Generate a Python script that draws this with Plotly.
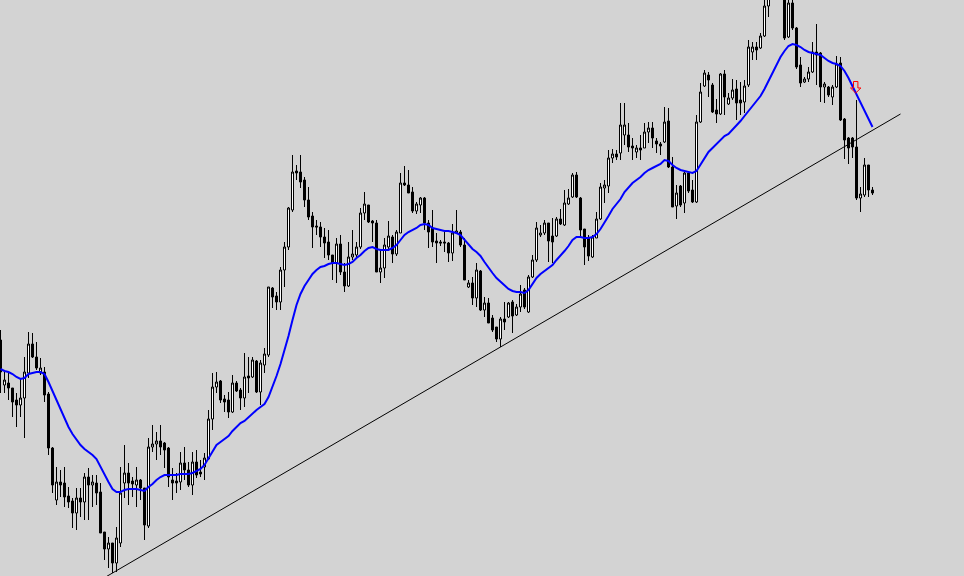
import plotly.graph_objects as go

# ---- data (price in points) ----
open_ = [
    660,615,617,612,600,595,602,627,656,643,
    627,628,606,552,500,518,517,504,499,487,
    502,498,523,515,517,508,468,451,457,437,
    457,517,527,519,515,520,512,474,553,556,
    559,557,552,520,519,518,537,530,515,538,
    528,533,541,581,613,619,601,600,588,617,
    610,602,624,623,639,608,635,645,712,704,
    698,730,753,790,829,828,820,800,784,774,
    773,763,758,745,737,756,728,714,743,745,
    753,787,795,779,777,728,732,753,763,746,
    767,817,815,808,789,795,802,777,772,759,
    758,758,757,747,767,768,755,713,717,702,
    729,690,697,682,673,661,681,683,698,685,
    693,710,688,723,740,765,767,777,764,764,
    781,775,796,803,825,802,771,762,743,762,
    781,812,814,842,846,847,865,865,854,848,
    852,852,868,872,859,856,858,879,833,794,
    814,797,827,810,798,878,914,925,915,890,
    886,926,896,902,911,900,898,915,948,953,
    952,964,994,1002,1030,1020,1005,963,997,972,
    935,918,921,928,948,947,913,913,903,913,
    937,881,862,862,853,802,805,835,810,
]
high = [
    670,630,627,612,607,622,643,668,667,658,
    642,633,608,553,533,530,533,513,502,512,
    512,527,532,525,525,517,468,463,457,473,
    533,555,537,523,533,521,512,562,575,568,
    575,558,553,532,527,548,553,538,548,550,
    540,547,590,627,628,620,605,608,625,619,
    612,647,643,643,640,640,652,713,713,708,
    733,758,793,845,835,845,823,813,788,780,
    778,772,770,745,762,765,737,758,770,758,
    792,808,795,780,780,750,762,779,765,770,
    827,834,830,813,798,803,803,780,790,767,
    760,768,758,776,790,770,762,720,723,737,
    730,703,702,685,673,683,698,698,700,696,
    715,712,725,745,778,775,780,777,782,783,
    791,810,811,827,828,803,771,765,765,788,
    817,820,850,851,850,897,897,877,862,855,
    865,877,878,878,862,858,893,892,843,815,
    815,830,828,820,885,917,930,928,917,901,
    927,930,907,921,920,918,920,960,958,958,
    967,1005,1008,1040,1045,1040,1015,1005,1003,973,
    943,923,933,958,976,948,918,914,915,944,
    943,882,863,863,900,813,842,835,813,
]
low = [
    607,607,600,583,573,583,562,622,642,630,
    625,598,545,507,495,503,493,492,472,470,
    483,480,480,493,495,467,440,432,427,428,
    453,502,495,503,493,500,460,472,548,540,
    545,532,513,500,507,510,520,513,505,522,
    523,520,540,570,607,597,588,582,587,608,
    590,593,607,622,607,595,627,643,692,690,
    690,713,750,788,820,812,793,780,752,765,
    753,742,740,720,717,725,708,713,740,743,
    751,780,777,758,728,717,722,750,737,744,
    767,814,807,787,786,787,770,752,753,737,
    754,748,738,739,767,753,720,712,695,693,
    689,683,677,668,658,653,670,682,667,684,
    688,691,687,722,738,763,765,738,737,763,
    775,774,795,802,802,763,735,739,742,762,
    780,797,807,837,840,840,855,848,840,842,
    840,852,857,852,847,845,857,832,793,781,
    793,787,807,797,797,877,913,903,887,877,
    885,885,895,900,880,885,887,913,940,940,
    951,963,983,1001,1010,1005,960,962,970,931,
    913,917,918,927,915,898,897,903,895,912,
    879,841,836,842,800,788,803,803,805,
]
close = [
    628,620,612,598,595,602,628,656,643,632,
    632,605,552,515,518,515,503,498,487,502,
    498,523,515,518,507,467,451,457,437,462,
    507,527,517,516,520,512,475,553,556,559,
    553,550,523,517,517,537,530,515,538,525,
    526,542,581,613,618,600,598,588,617,609,
    602,623,622,640,608,637,646,713,703,698,
    730,753,792,828,827,818,800,783,773,773,
    763,757,745,737,756,728,714,743,746,753,
    787,796,778,777,728,732,755,764,746,768,
    817,815,807,789,796,802,777,768,758,757,
    757,757,747,767,769,755,720,717,702,730,
    690,697,677,670,661,681,678,697,684,693,
    706,693,723,740,772,767,777,759,758,781,
    776,797,802,825,803,770,753,744,763,781,
    813,815,842,846,843,875,875,853,852,852,
    850,868,872,862,856,854,878,833,793,807,
    795,827,809,798,878,908,927,920,888,886,
    926,903,902,910,897,897,914,953,953,950,
    964,994,1002,1030,1020,1012,962,997,972,933,
    917,921,928,948,945,913,916,905,913,936,
    880,860,852,853,802,806,835,810,807,
]
ma = [
    631,629,628,626,623,621,622,626,627,628,
    628,626,618,609,600,591,581,573,566,560,
    555,551,548,545,541,533,525,518,511,508,
    508,510,511,511,511,510,509,513,516,520,
    523,525,525,525,525,526,526,526,527,529,
    531,535,542,549,555,558,561,564,569,573,
    577,579,583,587,590,593,596,603,613,624,
    636,649,664,680,695,706,714,720,726,730,
    733,734,736,737,737,736,735,736,738,742,
    745,749,752,753,751,750,750,750,752,755,
    760,765,768,770,772,775,776,775,772,771,
    770,769,769,768,767,765,760,755,751,748,
    744,738,732,727,722,718,714,711,709,708,
    708,707,710,716,722,726,729,732,735,740,
    744,749,754,760,763,763,762,762,763,766,
    771,777,784,791,796,801,808,813,817,820,
    823,827,830,832,834,836,840,839,835,832,
    830,829,828,827,829,835,842,848,852,856,
    860,864,866,870,874,879,884,889,893,899,
    904,911,919,927,936,943,949,954,956,955,
    953,950,948,947,946,945,942,939,937,936,
    934,929,922,914,906,898,889,881,873,
]
# trendline anchors: (bar index, price) touching two swing lows
trend_a = (28, 427)
trend_b = (125, 653)
trend_span = (20, 225)
signal_bar = 214  # sell-arrow bar

idx = list(range(len(close)))

fig = go.Figure()

# trendline
slope = (trend_b[1] - trend_a[1]) / (trend_b[0] - trend_a[0])
tx = list(trend_span)
ty = [trend_a[1] + slope * (x - trend_a[0]) for x in tx]
fig.add_trace(go.Scatter(x=tx, y=ty, mode="lines",
                         line=dict(color="black", width=1), hoverinfo="skip"))

fig.add_trace(go.Candlestick(
    x=idx, open=open_, high=high, low=low, close=close,
    increasing=dict(fillcolor="white", line=dict(color="black", width=1)),
    decreasing=dict(fillcolor="black", line=dict(color="black", width=1)),
    whiskerwidth=0, hoverinfo="skip"))

fig.add_trace(go.Scatter(x=idx, y=ma, mode="lines",
                         line=dict(color="#0000FF", width=2), hoverinfo="skip"))

# hollow red down arrow above the signal bar
ax = signal_bar - 0.2
tip = high[signal_bar] + 7
head = tip + 5
top = tip + 11.5
path = (f"M {ax-0.55},{top} L {ax+0.55},{top} L {ax+0.55},{head} L {ax+1.3},{head} "
        f"L {ax},{tip} L {ax-1.3},{head} L {ax-0.55},{head} Z")
fig.add_shape(type="path", path=path, xref="x", yref="y",
              line=dict(color="red", width=1), fillcolor="rgba(0,0,0,0)", layer="above")

fig.update_layout(
    width=964, height=576,
    margin=dict(l=0, r=0, t=0, b=0),
    paper_bgcolor="#D3D3D3", plot_bgcolor="#D3D3D3",
    showlegend=False, boxgap=0.5, boxgroupgap=0,
    xaxis=dict(visible=False, range=[-0.125, 240.875], rangeslider=dict(visible=False)),
    yaxis=dict(visible=False, range=[424, 1000]),
)

fig.write_html(
    "out.html",
    config={"displayModeBar": False, "staticPlot": True},
    post_script="document.body.style.margin='0';document.body.style.overflow='hidden';",
)
